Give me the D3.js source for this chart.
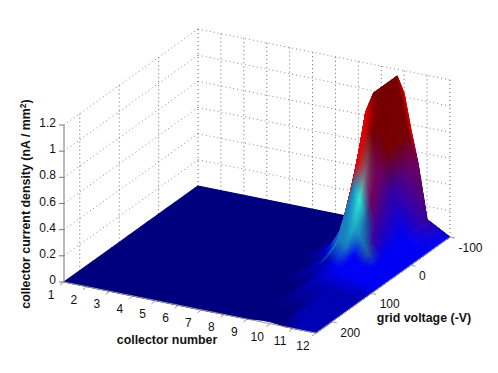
<!DOCTYPE html>
<html><head><meta charset="utf-8">
<script src="https://cdnjs.cloudflare.com/ajax/libs/d3/7.8.5/d3.min.js"></script>
<style>html,body{margin:0;padding:0;background:#fff}svg{display:block}text{font-family:"Liberation Sans",Arial,sans-serif;fill:#111}</style>
</head><body><svg id="c" width="498" height="373"></svg>
<script>
const collectorTicks=[1,2,3,4,5,6,7,8,9,10,11,12];
const voltageTicks=[-100,0,100,200];
const currentTicks=[0,0.2,0.4,0.6,0.8,1,1.2];
const collectorGrid=[1,7,8,8.5,9,9.35,9.7,10,10.3,10.6,11,12];
const voltageGrid=[-100,-92,-40,-20,0,12,27,45,77,120,200,240];
const currentValues=[
[0,0,0,.02,.3,.85,1.15,1.03,.76,.52,.1,0],
[0,0,0,.02,.3,.85,1.15,1.03,.76,.51,.1,0],
[0,0,0,.02,.3,.85,1.15,1.0,.72,.45,.09,0],
[0,0,0,.02,.25,.65,1.05,.9,.62,.38,.07,0],
[0,0,0,.02,.18,.45,.72,.62,.42,.24,.05,0],
[0,0,0,.01,.12,.3,.54,.46,.3,.16,.04,0],
[0,0,0,.01,.08,.18,.36,.3,.2,.1,.03,0],
[0,0,0,.01,.05,.1,.21,.17,.11,.05,.02,0],
[0,0,0,.01,.03,.07,.12,.08,.05,.03,.02,0],
[0,0,0,.01,.02,.04,.05,.04,.03,.02,.01,0],
[0,0,0,0,.01,.015,.02,.02,.01,.005,0,0],
[0,0,0,0,0,.01,.015,.015,.01,0,0,0]];
const palette=["#00007f","#0000b4","#0000f4","#30f0d8","#1880c0","#806a80","#ea0000","#760000","#700060","#3800a0","#20b8c8","#205c9c"];
const colorIndex=[
[0,0,0,0,6,6,7,6,6,8,9,1],
[0,0,0,0,6,6,7,7,7,8,9,2],
[0,0,0,1,6,6,7,7,7,9,2,2],
[0,0,0,1,4,6,6,7,8,9,2,2],
[0,0,0,1,4,6,6,5,8,9,2,2],
[0,0,0,1,4,4,4,3,11,9,2,2],
[0,0,0,1,2,4,4,10,4,11,2,2],
[0,0,0,0,1,4,4,4,2,2,2,2],
[0,0,0,0,1,1,1,2,2,2,2,2],
[0,0,0,0,0,0,1,1,1,1,1,1],
[0,0,0,0,0,0,0,0,0,1,1,1],
[0,0,0,0,0,0,0,0,0,0,1,1]];

const svg=d3.select("#c");
const cS=d3.scaleLinear().domain([1,12]).range([0,1]);
const vS=d3.scaleLinear().domain([-100,240]).range([0,1]);
const zS=d3.scaleLinear().domain([0,1.2]).range([0,157]);
const O=[198,186],U=[252,51],W=[-134,96];
const P=(c,v,z)=>{const a=cS(c),b=vS(v);return [O[0]+a*U[0]+b*W[0],O[1]+a*U[1]+b*W[1]-zS(z)]};
const line=(g,p,q,cl,w,dash)=>g.append("line").attr("x1",p[0]).attr("y1",p[1]).attr("x2",q[0]).attr("y2",q[1]).attr("stroke",cl).attr("stroke-width",w||1).attr("stroke-dasharray",dash||null);

const grid=svg.append("g");
const zt=1.2;
currentTicks.slice(1).forEach(z=>{
  line(grid,P(1,240,z),P(1,-100,z),"#8a8a8a",1,"1 3");
  line(grid,P(1,-100,z),P(12,-100,z),"#8a8a8a",1,"1 3");
});
voltageTicks.forEach(v=>line(grid,P(1,v,0),P(1,v,zt),"#666",1,"1 3"));
collectorTicks.slice(1).forEach(c=>line(grid,P(c,-100,0),P(c,-100,zt),"#666",1,"1 3"));

// surface
const rgb=palette.map(h=>d3.rgb(h));
const cells=[];
for(let i=0;i<collectorGrid.length-1;i++){
  for(let j=0;j<voltageGrid.length-1;j++){
    const c0=collectorGrid[i],c1=collectorGrid[i+1],v0=voltageGrid[j],v1=voltageGrid[j+1];
    const zz=[currentValues[j][i],currentValues[j][i+1],currentValues[j+1][i],currentValues[j+1][i+1]];
    const kk=[colorIndex[j][i],colorIndex[j][i+1],colorIndex[j+1][i],colorIndex[j+1][i+1]];
    const flat=zz.every(z=>z===0)&&kk.every(k=>k===kk[0]);
    const corners=[P(c0,v0,zz[0]),P(c1,v0,zz[1]),P(c0,v1,zz[2]),P(c1,v1,zz[3])];
    const span=d3.max([[0,1],[2,3],[0,2],[1,3]],e=>Math.hypot(corners[e[0]][0]-corners[e[1]][0],corners[e[0]][1]-corners[e[1]][1]));
    const n=flat?1:Math.max(2,Math.ceil(span/2));
    for(let a=0;a<n;a++)for(let b=0;b<n;b++){
      const f=(u,t)=>{const X=u/n,Y=t/n;const z=zz[0]*(1-X)*(1-Y)+zz[1]*X*(1-Y)+zz[2]*(1-X)*Y+zz[3]*X*Y;return P(c0+(c1-c0)*X,v0+(v1-v0)*Y,z)};
      const X=(a+.5)/n,Y=(b+.5)/n;
      const w=[(1-X)*(1-Y),X*(1-Y),(1-X)*Y,X*Y];
      const ch=k=>d3.sum(kk,(q,m)=>rgb[q][k]*w[m]);
      cells.push({i,j,a,b,flat,pts:[f(a,b),f(a+1,b),f(a+1,b+1),f(a,b+1)],col:`rgb(${ch("r")|0},${ch("g")|0},${ch("b")|0})`});
    }
  }
}
cells.sort((p,q)=>d3.ascending(p.i,q.i)||d3.ascending(p.a,q.a)||d3.ascending(p.j,q.j)||d3.ascending(p.b,q.b));
svg.append("g").selectAll("path").data(cells).join("path")
 .attr("d",d=>"M"+d.pts.map(p=>p[0].toFixed(2)+","+p[1].toFixed(2)).join("L")+"Z")
 .attr("fill",d=>d.col).attr("stroke",d=>d.col).attr("stroke-width",d=>d.flat?1.2:.8).attr("stroke-linejoin","round");

// axes
const ax=svg.append("g");
line(ax,P(1,240,0),P(1,240,zt),"#777");
line(ax,P(1,240,0),P(12,240,0),"#999");
line(ax,P(12,240,0),P(12,-100,0),"#999");
const fs=12;
currentTicks.forEach(z=>{
  const p=P(1,240,z);
  line(ax,[p[0]-5,p[1]],p,"#777");
  ax.append("text").attr("x",p[0]-8).attr("y",p[1]+2).attr("text-anchor","end").attr("font-size",fs).text(z);
});
collectorTicks.forEach(c=>{
  const p=P(c,240,0);
  line(ax,p,[p[0]-4,p[1]+3],"#999");
  ax.append("text").attr("x",p[0]-13).attr("y",p[1]+17).attr("text-anchor","middle").attr("font-size",fs).text(c);
});
voltageTicks.forEach(v=>{
  const p=P(12,v,0);
  line(ax,p,[p[0]+5,p[1]+1],"#999");
  ax.append("text").attr("x",p[0]+8.5).attr("y",p[1]+15).attr("text-anchor","start").attr("font-size",fs).text(v);
});
const lab=svg.append("g").attr("font-weight","bold").attr("font-size",12.4);
lab.append("text").attr("x",167).attr("y",344).attr("text-anchor","middle").text("collector number");
lab.append("text").attr("x",424).attr("y",322).attr("text-anchor","middle").text("grid voltage (-V)");
const yl=lab.append("text").attr("transform","translate(30,204) rotate(-90)").attr("text-anchor","middle");
yl.append("tspan").text("collector current density (nA / mm");
yl.append("tspan").attr("dy",-4).attr("font-size",8.5).text("2");
yl.append("tspan").attr("dy",4).text(")");
</script></body></html>
